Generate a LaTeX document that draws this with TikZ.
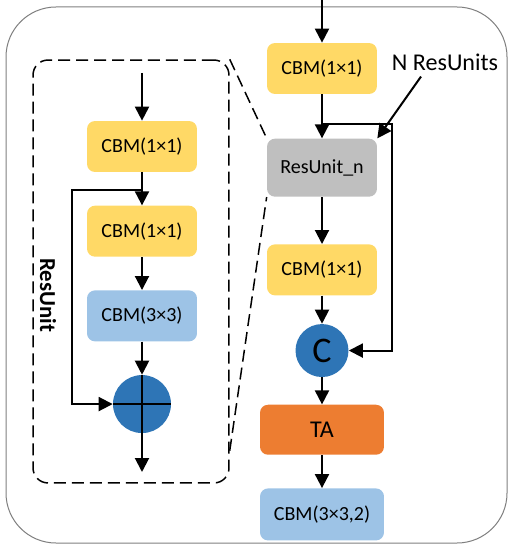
\documentclass[tikz,border=0pt]{standalone}
\usepackage{fontspec}
\setmainfont{Carlito}
\usetikzlibrary{positioning,calc,arrows.meta}

\definecolor{yellowcol}{HTML}{FFD966}
\definecolor{bluecol}{HTML}{9DC3E6}
\definecolor{greycol}{HTML}{BFBFBF}
\definecolor{orangecol}{HTML}{ED7D31}
\definecolor{dotcol}{HTML}{2E75B6}
\definecolor{framecol}{HTML}{7F7F7F}

\begin{document}
\begin{tikzpicture}[
  x=0.02cm, y=-0.02cm,
  font=\fontsize{11.4}{13}\selectfont,
  blk/.style={rounded corners=0.16cm, minimum width=2.2cm, minimum height=1.02cm, inner sep=0pt},
  cbm/.style={blk, fill=yellowcol},
  cbmb/.style={blk, fill=bluecol},
  wide/.style={minimum width=2.48cm, minimum height=1.04cm},
  resn/.style={blk, fill=greycol, minimum height=1.16cm},
  ta/.style={blk, fill=orangecol, minimum width=2.48cm, minimum height=1cm, font=\fontsize{13.7}{15}\selectfont},
  dot/.style={circle, fill=dotcol, inner sep=0pt},
  line/.style={line width=0.04cm},
  arrow/.style={line, -{Triangle[length=0.28cm,width=0.28cm]}},
  zoombox/.style={draw, line width=0.03cm, dash pattern=on 0.24cm off 0.12cm, rounded corners=0.3cm, minimum width=3.92cm, minimum height=8.46cm}
]
\useasboundingbox (0,0) rectangle (513,550);
\draw[framecol, line width=0.02cm, rounded corners=1cm] (6,7) rectangle (507,543);

% main branch
\coordinate (rin) at (322,0);
\node[cbm] (r1) at (322,68.5) {CBM(1×1)};
\node[resn, below=0.88cm of r1] (rn) {ResUnit\_n};
\node[cbm, below=0.94cm of rn] (r2) {CBM(1×1)};
\node[dot, minimum size=1.06cm, below=0.56cm of r2, font=\fontsize{20.5}{22}\selectfont] (cat) {C};
\node[ta, below=0.54cm of cat] (ta) {TA};
\node[cbmb, wide, below=0.66cm of ta] (r3) {CBM(3×3,2)};
\node[font=\fontsize{13.7}{15}\selectfont] (nlab) at (445,62) {N ResUnits};

\coordinate (rj) at ($(r1.south)!0.68!(rn.north)$);
\foreach \a/\b in {rin/r1, r1/rn, rn/r2, r2/cat, cat/ta, ta/r3}
  \draw[arrow] (\a) -- (\b);
\draw[arrow] (rj) -- ++(70,0) |- (cat);
\draw[arrow] ($(nlab.south)+(-24,0)$) -- (rn.north east);

% residual unit
\node[zoombox] (unit) at (131,271.5) {};
\coordinate (lin) at (142,73);
\node[cbm] (l1) at (142,146.5) {CBM(1×1)};
\node[cbm, below=0.66cm of l1] (l2) {CBM(1×1)};
\node[cbmb, below=0.66cm of l2] (l3) {CBM(3×3)};
\node[dot, minimum size=1.16cm, below=0.66cm of l3] (add) {};
\coordinate (lout) at (142,472);
\node[rotate=-90, font=\fontsize{13}{15}\selectfont\bfseries] (rlab) at (48,295) {ResUnit};

\coordinate (lj) at ($(l1.south)!0.55!(l2.north)$);
\foreach \a/\b in {lin/l1, l1/l2, l2/l3, l3/add}
  \draw[arrow] (\a) -- (\b);
\draw[arrow] (lj) -- ++(-70,0) |- (add);
\draw[line] (add.west) -- (add.east);
\draw[arrow] (add.north) -- (lout);

% zoom lines
\draw[line width=0.03cm, dash pattern=on 0.24cm off 0.12cm] (unit.north east) -- (rn.north west);
\draw[line width=0.03cm, dash pattern=on 0.24cm off 0.12cm] ($(unit.south east)+(0,-33)$) -- (rn.south west);
\end{tikzpicture}
\end{document}
